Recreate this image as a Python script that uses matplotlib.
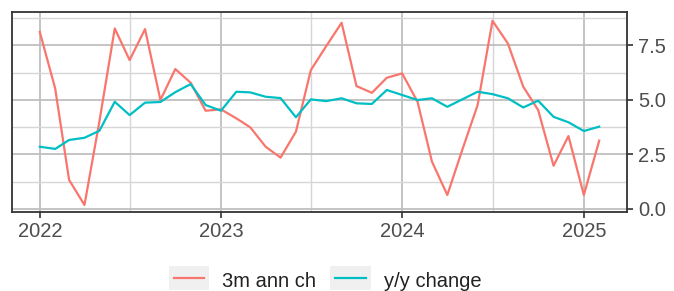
import numpy as np
import pandas as pd
import matplotlib
matplotlib.use('Agg')
import matplotlib.pyplot as plt
import matplotlib.dates as mdates
from matplotlib.ticker import FixedLocator
from matplotlib.patches import Rectangle

plt.rcParams['font.family'] = ['Liberation Sans', 'DejaVu Sans']

# monthly data, Jan 2022 - Feb 2025
months = pd.date_range('2022-01-01', '2025-02-01', freq='MS')

ann_3m = [8.11, 5.52, 1.33, 0.18, 4.0, 8.27, 6.82, 8.24, 4.99, 6.41, 5.78, 4.50,
          4.56, 4.15, 3.74, 2.85, 2.35, 3.54, 6.36, 7.46, 8.53, 5.63, 5.32, 6.01,
          6.21, 4.91, 2.17, 0.64, 2.70, 4.76, 8.62, 7.58, 5.60, 4.53, 1.98, 3.34,
          0.64, 3.13]
yoy = [2.85, 2.75, 3.16, 3.26, 3.58, 4.91, 4.30, 4.87, 4.90, 5.35, 5.72, 4.76,
       4.50, 5.37, 5.34, 5.14, 5.08, 4.20, 5.02, 4.94, 5.07, 4.84, 4.81, 5.45,
       5.22, 4.99, 5.07, 4.68, 5.02, 5.37, 5.26, 5.07, 4.65, 4.96, 4.22, 3.97,
       3.57, 3.77]

series_labels = ['3m ann ch', 'y/y change']
series_colors = ['#F8766D', '#00BFC4']

fig = plt.figure(figsize=(6.74, 2.91), dpi=100)
ax = fig.add_axes([0.0178, 0.2715, 0.9125, 0.687])

ax.plot(months, ann_3m, color=series_colors[0], lw=1.6, label=series_labels[0])
ax.plot(months, yoy, color=series_colors[1], lw=1.6, label=series_labels[1])

ax.set_xlim(pd.Timestamp('2021-11-06'), pd.Timestamp('2025-03-29'))
ax.set_ylim(-0.14, 9.02)

# axes / grid
years = pd.to_datetime(['2022-01-01', '2023-01-01', '2024-01-01', '2025-01-01'])
mids = pd.to_datetime(['2021-07-01', '2022-07-01', '2023-07-01', '2024-07-01', '2025-07-01'])
ax.xaxis.set_major_locator(FixedLocator(mdates.date2num(years)))
ax.xaxis.set_minor_locator(FixedLocator(mdates.date2num(mids)))
ax.xaxis.set_major_formatter(mdates.DateFormatter('%Y'))
ax.set_yticks([0, 2.5, 5.0, 7.5])
ax.set_yticklabels(['0.0', '2.5', '5.0', '7.5'])
ax.yaxis.set_minor_locator(FixedLocator([1.25, 3.75, 6.25, 8.75]))
ax.yaxis.tick_right()

ax.grid(True, which='major', color='#bfbfbf', lw=1.3)
ax.grid(True, which='minor', color='#d6d6d6', lw=1.0)
ax.set_axisbelow(True)

for s in ax.spines.values():
    s.set_color('#333333')
    s.set_linewidth(1.3)

ax.tick_params(axis='both', which='major', length=4, width=1.2, color='#333333',
               labelsize=14.5, labelcolor='#4d4d4d')
ax.tick_params(axis='x', which='major', pad=3)
ax.tick_params(axis='y', which='major', pad=4, right=True, left=False)
ax.tick_params(which='minor', length=0)

leg = fig.legend(loc='center', bbox_to_anchor=(0.486, 0.037), ncol=2, frameon=False,
                 fontsize=14.5, handlelength=1.5, handleheight=1.2,
                 columnspacing=0.95, handletextpad=0.9)
for t in leg.get_texts():
    t.set_color('#222222')

# light grey boxes behind the legend keys (ggplot style)
fig.canvas.draw()
inv = fig.transFigure.inverted()
for h in leg.legend_handles:
    bb = h.get_window_extent(fig.canvas.get_renderer())
    (x0, y0), (x1, y1) = inv.transform([[bb.x0, bb.y0], [bb.x1, bb.y1]])
    cy = (y0 + y1) / 2
    pad = 0.0075
    fig.patches.append(Rectangle((x0 - pad, cy - 0.042), (x1 - x0) + 2 * pad, 0.084,
                                 transform=fig.transFigure, facecolor='#f0f0f0',
                                 edgecolor='none', zorder=-1))

fig.savefig('out.png', dpi=100)
